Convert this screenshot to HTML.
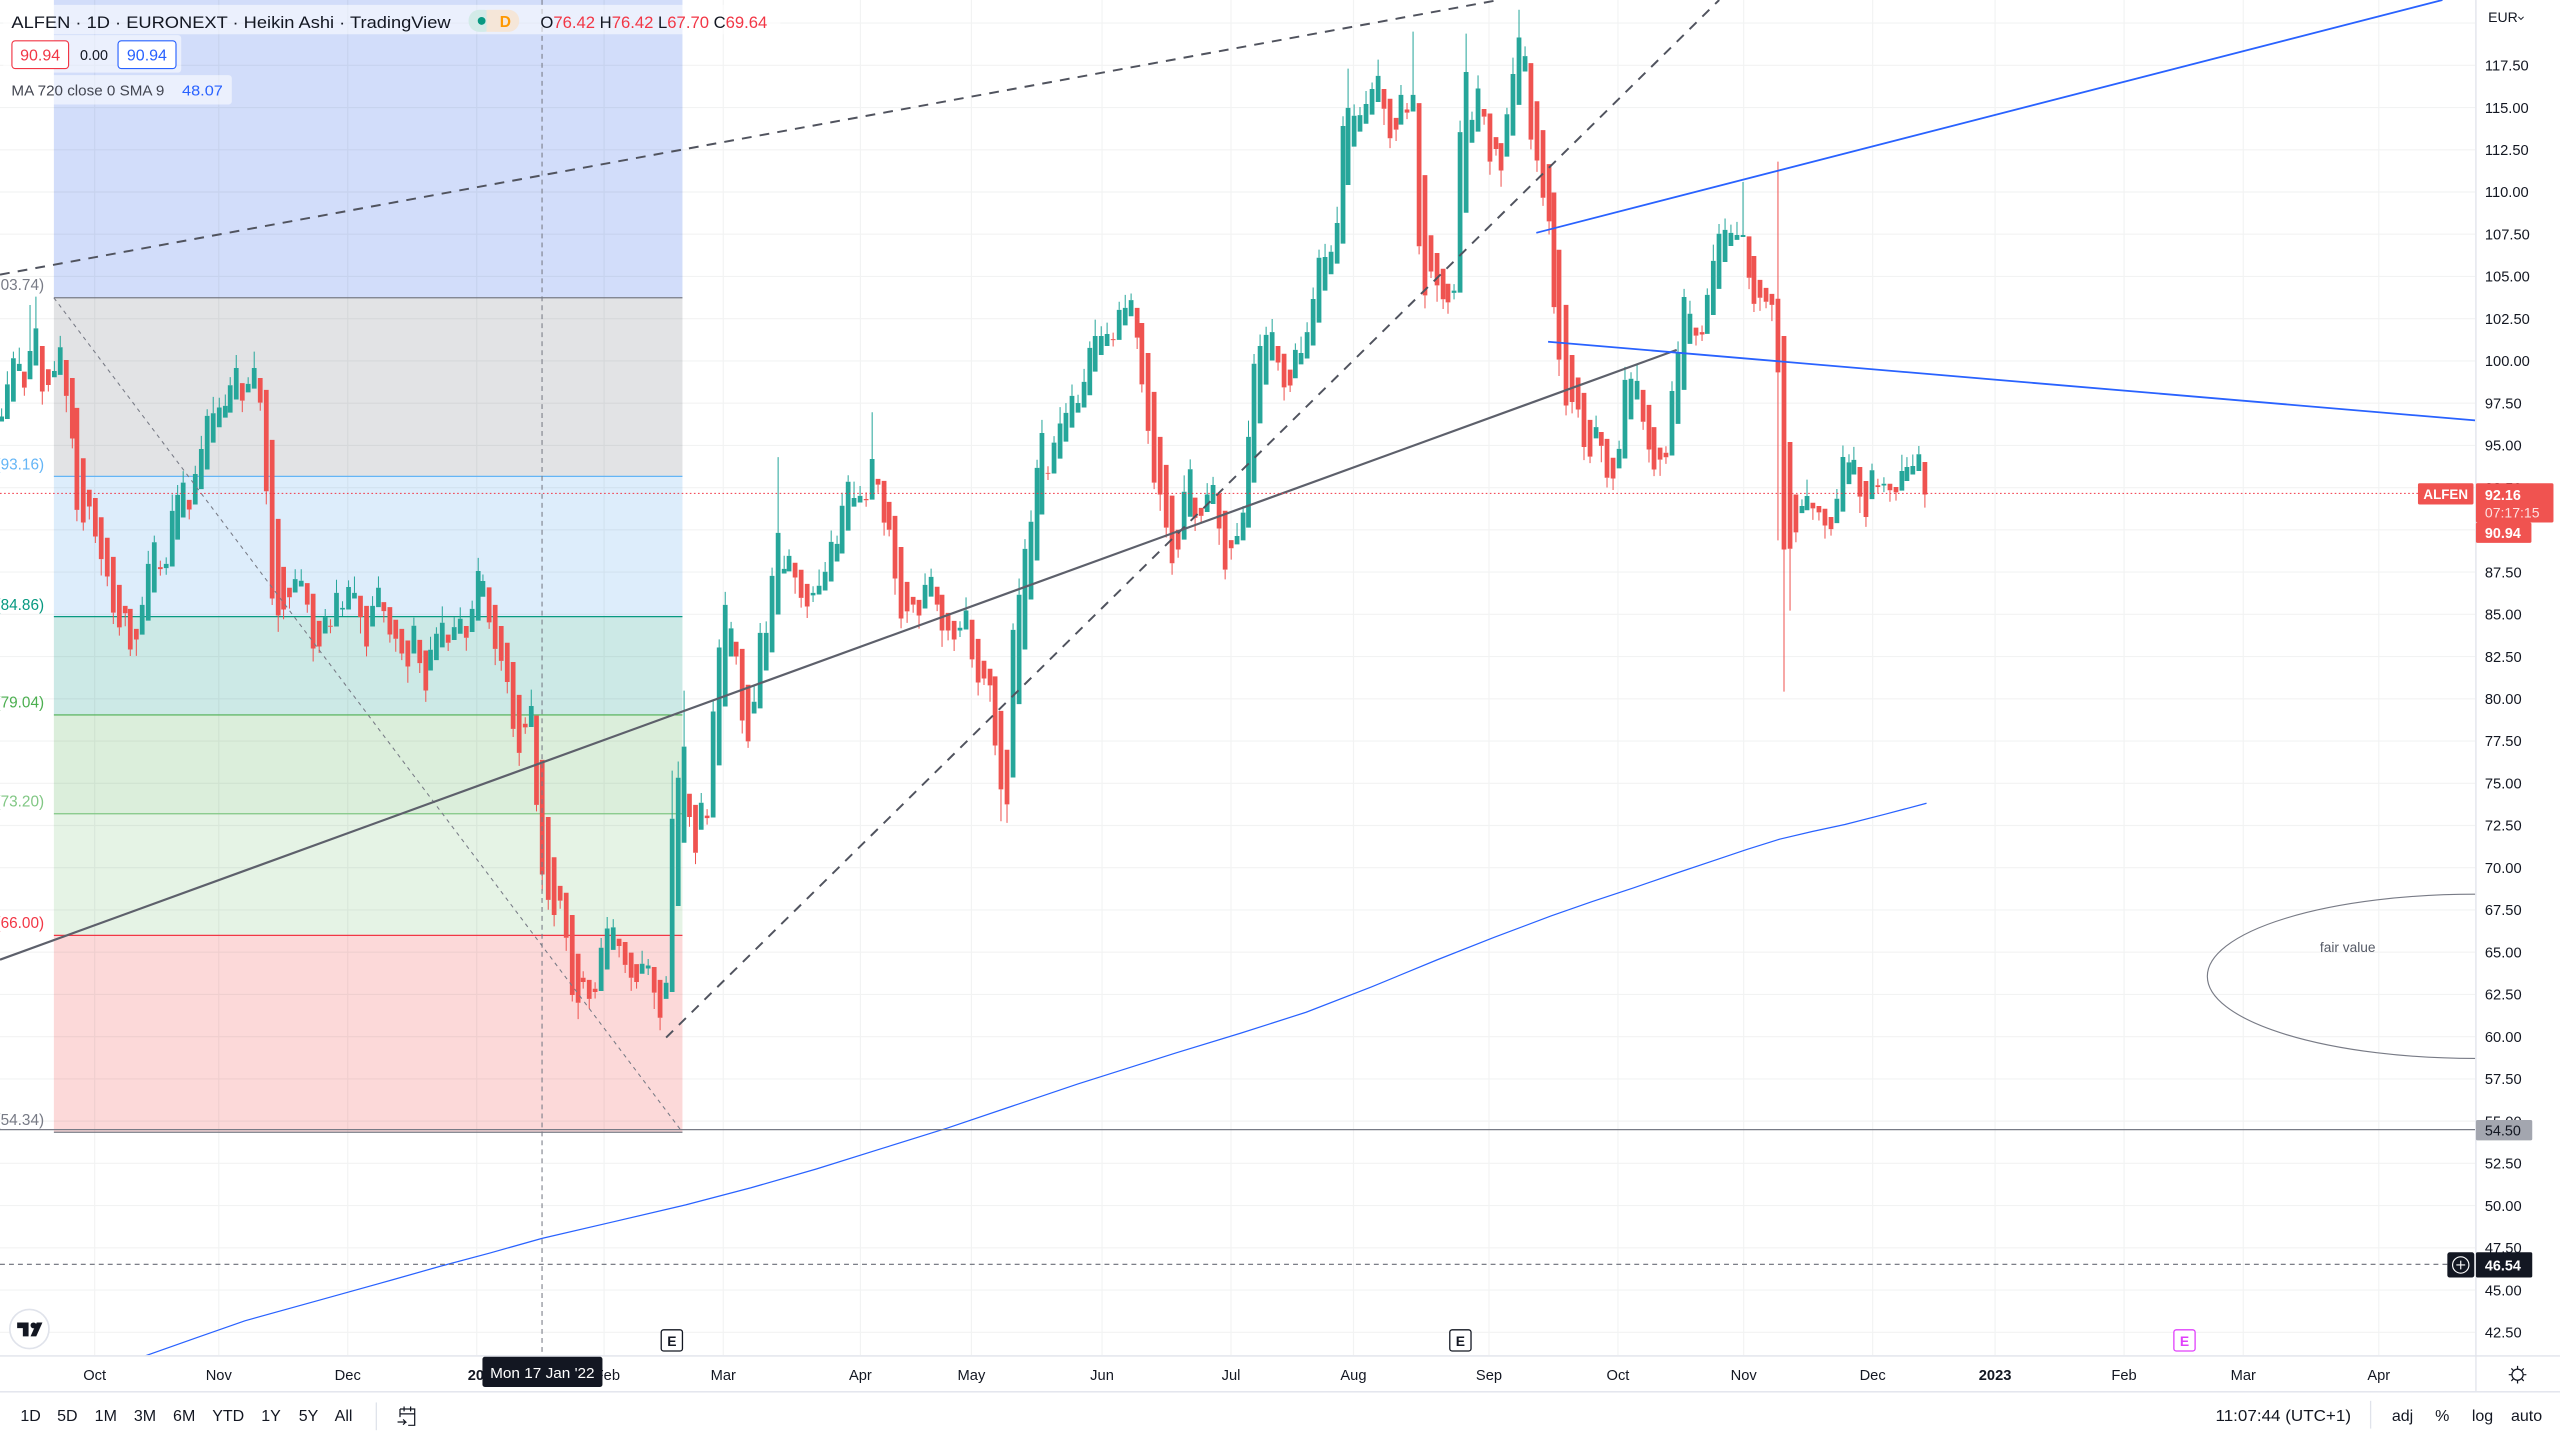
<!DOCTYPE html>
<html><head><meta charset="utf-8">
<style>
html,body{margin:0;padding:0;background:#fff;overflow:hidden;}
svg{display:block;}
text{font-family:"Liberation Sans",Arial,sans-serif;}
</style></head>
<body>
<svg xmlns="http://www.w3.org/2000/svg" width="2560" height="1440" viewBox="0 0 1568 882">
<defs><clipPath id="cp"><rect x="0" y="0" width="1516" height="830"/></clipPath></defs>
<rect width="1568" height="882" fill="#fff"/>
<g clip-path="url(#cp)">
  <!-- fib fills -->
  <rect x="33" y="0" width="385" height="182.4" fill="#d2ddfa"/>
  <rect x="33" y="182.4" width="385" height="109.4" fill="#e2e3e5"/>
  <rect x="33" y="291.8" width="385" height="85.9" fill="#ddedfb"/>
  <rect x="33" y="377.7" width="385" height="60.2" fill="#cce9e6"/>
  <rect x="33" y="437.9" width="385" height="60.5" fill="#dbeedb"/>
  <rect x="33" y="498.4" width="385" height="74.5" fill="#e5f3e5"/>
  <rect x="33" y="572.9" width="385" height="120.6" fill="#fcd9d9"/>
  <!-- grid -->
  <path fill="none" stroke="rgba(42,46,57,0.06)" stroke-width="0.7" d="M58 0V830M134 0V830M213 0V830M292 0V830M370 0V830M443 0V830M527 0V830M595 0V830M675 0V830M754 0V830M829 0V830M912 0V830M991 0V830M1068 0V830M1147 0V830M1222 0V830M1301 0V830M1374 0V830M1457 0V830M0 14.13H1516M0 40H1516M0 65.87H1516M0 91.74H1516M0 117.6H1516M0 143.47H1516M0 169.34H1516M0 195.21H1516M0 221.07H1516M0 246.94H1516M0 272.81H1516M0 298.68H1516M0 324.54H1516M0 350.41H1516M0 376.28H1516M0 402.15H1516M0 428.01H1516M0 453.88H1516M0 479.75H1516M0 505.62H1516M0 531.49H1516M0 557.35H1516M0 583.22H1516M0 609.09H1516M0 634.96H1516M0 660.82H1516M0 686.69H1516M0 712.56H1516M0 738.43H1516M0 764.29H1516M0 790.16H1516M0 816.03H1516"/>
  <!-- fib lines -->
  <g stroke-width="0.75">
    <line x1="33" y1="182.4" x2="418" y2="182.4" stroke="#787b86"/>
    <line x1="33" y1="291.8" x2="418" y2="291.8" stroke="#64b5f6"/>
    <line x1="33" y1="377.7" x2="418" y2="377.7" stroke="#089981"/>
    <line x1="33" y1="437.9" x2="418" y2="437.9" stroke="#4caf50"/>
    <line x1="33" y1="498.4" x2="418" y2="498.4" stroke="#81c784"/>
    <line x1="33" y1="572.9" x2="418" y2="572.9" stroke="#f23645"/>
    <line x1="33" y1="693.5" x2="418" y2="693.5" stroke="#787b86"/>
  </g>
  <g font-size="9.4" text-anchor="end">
    <text x="27" y="177.5" fill="#787b86">(103.74)</text>
    <text x="27" y="287.5" fill="#64b5f6">(93.16)</text>
    <text x="27" y="373.5" fill="#089981">(84.86)</text>
    <text x="27" y="433.5" fill="#4caf50">(79.04)</text>
    <text x="27" y="494" fill="#81c784">(73.20)</text>
    <text x="27" y="568.5" fill="#f23645">(66.00)</text>
    <text x="27" y="689" fill="#787b86">(54.34)</text>
  </g>
  <!-- MA 720 -->
  <polyline fill="none" stroke="#2962ff" stroke-width="0.75" points="88,830.8 120,819.5 150,809 195,796.5 240,784 270,775.5 300,767.5 332,758.5 375,748.5 420,738 460,727.5 500,716 540,703.5 580,691 620,677.5 660,664 690,654.5 720,645 760,632.8 800,620 840,604.5 880,588 915,574.2 950,561 975,552.3 1000,544 1025,535.4 1050,527 1070,520.3 1090,514 1110,509.3 1130,505 1155,498.6 1180,492"/>
  <!-- fair value ellipse -->
  <ellipse cx="1516" cy="598" rx="164" ry="50.3" fill="none" stroke="#787b86" stroke-width="0.7"/>
  <text x="1438" y="583" font-size="8.4" fill="#555a66" text-anchor="middle">fair value</text>
  <!-- candles: teal wicks -->
  <path fill="none" stroke="#26a69a" stroke-width="0.62" d="M1 255.1v-5M4.5 235.4v-8M8.2 219.4v-4M11.8 222.9v-10M18.4 215V186.8M22 201.1V181.7M33.3 227.2v-6M36.9 212.7v-7M87.1 370.5v-5M90.8 345.4v-8M94.5 332.1v-4M101.8 345.4v-4M101.8 348v4M105.5 312.9v-10M108.8 303.1v-6M112.2 295.6v-7M119.6 290.3v-5M123.3 275v-8M126.9 254.7v-4M130.6 253.1v-10M134.3 249.6v-6M138 248.6v-7M141 236v-5M144.7 225.4v-8M152 235.1v-4M155.7 225.4v-10M180.8 354.7v-6M184.5 355.7v-7M199.2 378v-5M206.1 363.1v-8M209.8 372.3v-4M209.8 373.3v4M213.5 359.5v-4M217.1 363.1v-10M228.2 371.1v-6M231.8 360v-7M253.5 383.3v-5M263.7 398v-8M267.3 388.2v-4M270.9 381.4v-10M278.2 384.1v-6M281.9 379v-7M289.2 372.9v-5M292.9 349.7v-8M295.8 355.9v-4M325.4 432.4v-10M368.2 580.5v-6M371.9 568.7v-7M375.6 568v-5M393.3 590.3v-8M397 591.4v-4M397 593.2v4M408 601.9v-4M411.7 501.5V472M415.4 476.4v-10M419 457.3V423M429.5 491.7v-6M436.8 435.8v-7M440.5 396.6v-5M444.2 370.5v-8M447.8 384.9v-4M461.9 429.8v-10M465.6 387.6v-6M469.3 387.6v-7M472.9 352.7v-5M476.6 326.4V280M480.3 348.4v-8M483.3 340.5v-4M498 363.1v-4M498 364.7v4M501.7 358.8v-10M505.4 350.2v-6M509.1 331.9v-7M512.7 333.1v-5M515.8 309.8v-8M519.5 295.1v-4M523.1 305v-10M526.8 303.7v-6M534.2 281.1V252.5M566.6 358.2v-7M570.3 353.3v-5M588 384.5v-4M588 386.2v4M591.7 373.9v-8M620.5 385.8v-4M624.2 364.3v-10M627.8 336.2v-6M631.5 319.6v-7M635.2 286.6v-5M638.2 265.2v-8M645.6 271.1v-4M649.3 259.4v-10M652.9 252.9v-6M656.6 242.5v-7M660.3 246.8v-5M664 233.9v-8M667.5 213.1v-4M670.8 205.8v-10M674.5 205.8v-6M678.1 204.6v-7M685.5 189.8v-5M689.2 188.6v-8M692.8 183.8v-4M725.3 301.2v-10M729 287.4v-6M739.4 302.9v-7M743 297.1v-5M757.7 328.3v-8M761.4 314v-4M764.7 267.6v-10M768.1 222.8v-6M771.8 211.9v-7M775.5 205.1v-5M779.2 203.4v-8M793.4 214.3v-4M796.9 216.2v-10M800.6 203.4v-6M804.3 183.1v-7M807.9 157.9v-5M811.6 157.4v-8M815.3 154.2v-4M819 136.6v-10M822.6 77.2v-6M825.7 66.1V42M829.4 70.9v-7M833 70.5v-5M836.7 63.7v-8M840.4 54.5v-4M844.1 46.5v-10M858.1 58.1v-6M865.5 58.1V19.4M890.6 178v-4M890.6 179.4v4M894.3 80.9v-7M898 44.1V20.6M901.6 73.4v-5M905.3 54.2v-8M923 70v-4M926.7 45.3v-10M930.4 23V6M934.1 34.4v-6M977.6 261.6v-7M991.7 274.9v-5M995.3 232.7v-8M999 232v-4M1002.7 233.3v-10M1024.1 239.5v-6M1027.8 216.1v-7M1031.5 181.9v-5M1035.1 192.2v-8M1045.7 180.6v-4M1049.4 159.8v-10M1052.9 143.2v-6M1056.6 140.8v-7M1060.2 142.6v-5M1063.9 143.9v-8M1067.6 143.9V111.5M1103.7 309.9v-4M1106.8 303.8v-10M1125.1 305.5v-6M1128.8 279.9v-7M1132.5 283.2v-5M1135.5 281.7v-8M1146.6 288v-4M1153.9 296.3v-4M1153.9 297.4v4M1164.9 288.5v-10M1168 286v-6M1171.6 285.4v-7M1175.3 278.2v-5"/>
  <!-- teal bodies -->
  <path fill="none" stroke="#26a69a" stroke-width="2.9" d="M1 255.1V258.2M4.5 235.4V256.6M8.2 219.4V246M11.8 222.9V227.2M18.4 215V232.3M22 201.1V223.9M33.3 227.2V231.1M36.9 212.7V229.6M87.1 370.5V388.7M90.8 345.4V380.1M94.5 332.1V362.9M101.8 345.4V348M105.5 312.9V347M108.8 303.1V330.5M112.2 295.6V317M119.6 290.3V309M123.3 275V299.6M126.9 254.7V287.6M130.6 253.1V271.1M134.3 249.6V261.7M138 248.6V255.8M141 236V252.7M144.7 225.4V244.7M152 235.1V240.3M155.7 225.4V238M180.8 354.7V362.9M184.5 355.7V359.2M199.2 378V388M206.1 363.1V383.7M209.8 372.3V373.3M213.5 359.5V373.3M217.1 363.1V366.6M228.2 371.1V383.7M231.8 360V371.9M253.5 383.3V400.3M263.7 398V410.7M267.3 388.2V404.3M270.9 381.4V396.5M278.2 384.1V392M281.9 379V388.2M289.2 372.9V387.1M292.9 349.7V380.1M295.8 355.9V365.5M325.4 432.4V445.3M368.2 580.5V607M371.9 568.7V593.8M375.6 568V581.8M393.3 590.3V596.4M397 591.4V593.2M408 601.9V611.8M411.7 501.5V607.6M415.4 476.4V554.9M419 457.3V516.2M429.5 491.7V508.2M436.8 435.8V500.7M440.5 396.6V468.8M444.2 370.5V432.7M447.8 384.9V402.1M461.9 429.8V437M465.6 387.6V433.9M469.3 387.6V410.7M472.9 352.7V399.6M476.6 326.4V376.4M480.3 348.4V351.3M483.3 340.5V350M498 363.1V364.7M501.7 358.8V364.1M505.4 350.2V361.7M509.1 331.9V356.2M512.7 333.1V343.9M515.8 309.8V339M519.5 295.1V325M523.1 305V310.3M526.8 303.7V307.8M534.2 281.1V306M566.6 358.2V372.7M570.3 353.3V365.4M588 384.5V386.2M591.7 373.9V385.6M620.5 385.8V476.2M624.2 364.3V431.3M627.8 336.2V397.8M631.5 319.6V367.2M635.2 286.6V343.3M638.2 265.2V315.1M645.6 271.1V290M649.3 259.4V280.9M652.9 252.9V270.5M656.6 242.5V261.9M660.3 246.8V252.7M664 233.9V249.6M667.5 213.1V242.1M670.8 205.8V227.6M674.5 205.8V217.4M678.1 204.6V211.9M685.5 189.8V208.2M689.2 188.6V199.3M692.8 183.8V193.7M725.3 301.2V330.5M729 287.4V316.5M739.4 302.9V313.6M743 297.1V308.7M757.7 328.3V333.4M761.4 314V331M764.7 267.6V323.2M768.1 222.8V295.6M771.8 211.9V259.3M775.5 205.1V235.6M779.2 203.4V220.8M793.4 214.3V231.7M796.9 216.2V223.2M800.6 203.4V219.6M804.3 183.1V211.6M807.9 157.9V197.6M811.6 157.4V178M815.3 154.2V168M819 136.6V161.5M822.6 77.2V149.2M825.7 66.1V113.3M829.4 70.9V89.8M833 70.5V80.6M836.7 63.7V75.8M840.4 54.5V70.2M844.1 46.5V62.5M858.1 58.1V76.3M865.5 58.1V68.3M890.6 178V179.4M894.3 80.9V179.2M898 44.1V130.3M901.6 73.4V87.4M905.3 54.2V80.6M923 70V95.9M926.7 45.3V83.1M930.4 23V64.2M934.1 34.4V43.8M977.6 261.6V268.5M991.7 274.9V286.9M995.3 232.7V280.8M999 232V256.9M1002.7 233.3V244.7M1024.1 239.5V279M1027.8 216.1V259.6M1031.5 181.9V238.8M1035.1 192.2V210.6M1045.7 180.6V204.5M1049.4 159.8V192.9M1052.9 143.2V176.9M1056.6 140.8V160.5M1060.2 142.6V150.7M1063.9 143.9V146.9M1067.6 143.9V145.2M1103.7 309.9V314.3M1106.8 303.8V312.5M1125.1 305.5V320.4M1128.8 279.9V313.4M1132.5 283.2V296.5M1135.5 281.7V290.6M1146.6 288V305.7M1153.9 296.3V297.4M1164.9 288.5V300.5M1168 286V294.6M1171.6 285.4V290.6M1175.3 278.2V288.5"/>
  <!-- red wicks -->
  <path fill="none" stroke="#ef5350" stroke-width="0.62" d="M14.9 237.4v5M25.9 239.8v8M29.6 235.8v4M40.6 242.5v10M44.3 268.6v6M47.1 312.3v7M51 320v5M54.7 310.2v8M58.4 328.6v4M62 342.5v10M65.7 353.1v6M69.4 375.2v7M73.1 384.3v5M76.7 375.6v8M79.8 397.8v4M83.5 391.7v10M98.2 347.4v-4M98.2 348.6v4M115.9 312.1v6M148.4 245.4v7M159.4 246.6v5M163.1 300.9v8M166.7 366.6v4M170.4 377v10M173.7 373.3v6M177.3 365.8v7M188.2 370.3v5M191.8 397.2v8M195.5 396v4M202.4 383.3v-4M202.4 383.9v4M220.8 378v10M224.5 396v6M235.1 374.3v7M238.8 388.6v5M242.4 391.2v8M246.1 400.3v4M249.8 408.2v10M257.1 406.2v6M260.8 422.9v7M274.5 393.7v5M285.6 390.6v8M299.6 381.2v4M303.3 397.4v10M307 404.8v6M310.7 417.7v7M314.3 446.4v5M318 461.1v8M321.7 443.3v-4M321.7 445.5v4M328.6 493v4M332.1 535.6v10M335.8 551.2v6M339.4 560.4v7M343.1 551.6v5M346.8 574.4v8M350.5 609.4v4M354.1 614.2v10M357.2 598.9v-4M357.2 601.5v4M360.9 611.8v6M364.5 605.6v-4M364.5 607.6v4M379.2 579.4v7M382.9 591v5M386.6 598.9v8M389.9 601.5v4M400.7 608v10M404.3 623.4V631M422.3 500.4v6M426 522.3v7M433.1 499.6v-4M433.1 501.1v4M450.9 402.1v5M454.6 441.3v8M458.2 454.1v4M487 353.7v10M490.7 366.2v6M494.4 371.5v7M530.5 305.6v-4M530.5 306.4v4M537.8 296.8v5M541.5 320.1v8M544.6 324.5v4M548.2 354.3v10M551.9 378.8v6M555.6 374.5v7M559.3 370.3v5M562.9 377v8M574 370.3v4M577 386.2v10M580.7 386.2v6M584.4 391.7v7M595.4 403.9v5M599.1 418v8M602.7 415.6v4M606.4 419.8v10M609.5 456.6v6M613.1 483.5V503M616.8 492.7V504M641.9 289.6v-4M641.9 290v4M681.8 207.7v-4M681.8 208.2v4M696.5 206.8v7M699.4 235.4v5M703.2 263.9v8M706.9 295.6v4M710.6 302.9v10M714.3 323.2v6M717.9 345v7M721.6 336.6v5M732 317.2v8M735.7 316v4M746.7 323.7v10M750.4 348.9v6M754.1 335.8v7M782.8 222v5M786.5 237.3v8M790.2 236.1v4M847.7 66.6v10M851.4 84.7v6M855.1 79.4v7M861.8 67.1v-4M861.8 69v4M869.2 150.8v5M872.8 180.9v8M876.5 166.3v4M880.2 174.8v10M883.9 183.3v6M886.9 185.2v7M909 71.4v5M912.6 99v8M916.3 91.3v4M919.4 104.4v10M937.7 85.5v6M941.4 98.3v7M945.1 121.1v5M948.8 135.6v8M951.8 188.1v4M954.9 220.3v10M959.2 248.4v6M962.9 246.2v7M966.6 250.8v5M970.2 273.8v8M973.9 279.7v4M980.8 273.1v10M984.3 292.6v6M988 293.1v7M1006.4 258.3v5M1010 275.3v8M1013.1 287.6v4M1016.8 281.5v10M1020.4 277.3v-4M1020.4 280.1v4M1038.8 205.6v6M1042.5 203.4v-4M1042.5 204.9v4M1071.3 170.1v7M1074.3 186.1v5M1078 182.4v8M1081.7 184.8v4M1085.3 186.7v10M1089 99V331M1092.7 336.6V423.6M1096.4 336.1V374M1100 326.1v6M1110.4 311.4v7M1114.1 313.8v5M1117.8 321.9v8M1121.5 324.1v4M1139.2 304.2v10M1142.9 316.7v6M1150.2 297.2v-4M1150.2 298.3v4M1157.6 300.3v7M1161.3 301.6v5M1179 302.9v8"/>
  <!-- red bodies -->
  <path fill="none" stroke="#ef5350" stroke-width="2.9" d="M14.9 227.6V237.4M25.9 211.9V239.8M29.6 226.2V235.8M40.6 220.5V242.5M44.3 231.5V268.6M47.1 249.8V312.3M51 280.7V320M54.7 300V310.2M58.4 305V328.6M62 316.8V342.5M65.7 329.4V353.1M69.4 341.1V375.2M73.1 358.2V384.3M76.7 371.1V375.6M79.8 372.9V397.8M83.5 385.2V391.7M98.2 347.4V348.6M115.9 306.2V312.1M148.4 234.7V245.4M159.4 231.5V246.6M163.1 238.8V300.9M166.7 269.4V366.6M170.4 317.8V377M173.7 347.2V373.3M177.3 360V365.8M188.2 357.2V370.3M191.8 363.7V397.2M195.5 380.3V396M202.4 383.3V383.9M220.8 364.9V378M224.5 371.1V396M235.1 368.8V374.3M238.8 371.9V388.6M242.4 379.6V391.2M246.1 385.2V400.3M249.8 392.3V408.2M257.1 391.9V406.2M260.8 398.4V422.9M274.5 388.7V393.7M285.6 383.4V390.6M299.6 359.8V381.2M303.3 370.5V397.4M307 383.4V404.8M310.7 393.7V417.7M314.3 405.5V446.4M318 425.6V461.1M321.7 443.3V445.5M328.6 438.3V493M332.1 465.4V535.6M335.8 500.4V551.2M339.4 525.1V560.4M343.1 542.6V551.6M346.8 546.8V574.4M350.5 560.4V609.4M354.1 584.2V614.2M357.2 598.9V601.5M360.9 600.2V611.8M364.5 605.6V607.6M379.2 575V579.4M382.9 577V591M386.6 583.5V598.9M389.9 590.5V601.5M400.7 592.3V608M404.3 600.2V623.4M422.3 486.2V500.4M426 493V522.3M433.1 499.6V501.1M450.9 393.1V402.1M454.6 397.4V441.3M458.2 419.4V454.1M487 344.7V353.7M490.7 349V366.2M494.4 357.6V371.5M530.5 305.6V306.4M537.8 293.3V296.8M541.5 294.5V320.1M544.6 307.4V324.5M548.2 316V354.3M551.9 335V378.8M555.6 356.4V374.5M559.3 365.6V370.3M562.9 367.4V377M574 359.4V370.3M577 364.3V386.2M580.7 375.4V386.2M584.4 380.3V391.7M595.4 379.6V403.9M599.1 391.3V418M602.7 404.7V415.6M606.4 409.6V419.8M609.5 414.3V456.6M613.1 435.4V483.5M616.8 459.2V492.7M641.9 289.6V290.2M681.8 207.7V208.3M696.5 188.6V206.8M699.4 197.8V235.4M703.2 216.2V263.9M706.9 240V295.6M710.6 267.6V302.9M714.3 284.7V323.2M717.9 303.6V345M721.6 324.5V336.6M732 304.8V317.2M735.7 311.1V316M746.7 302.4V323.7M750.4 312.8V348.9M754.1 330.8V335.8M782.8 211.9V222M786.5 216.7V237.3M790.2 226.4V236.1M847.7 54.5V66.6M851.4 60.5V84.7M855.1 72.2V79.4M861.8 67.1V69M869.2 63.2V150.8M872.8 107.3V180.9M876.5 144.1V166.3M880.2 155V174.8M883.9 164.6V183.3M886.9 173.8V185.2M909 66.8V71.4M912.6 69.5V99M916.3 84V91.3M919.4 87.7V104.4M937.7 38.7V85.5M941.4 62V98.3M945.1 79.7V121.1M948.8 100.5V135.6M951.8 117.9V188.1M954.9 153V220.3M959.2 186.7V248.4M962.9 217.4V246.2M966.6 231.2V250.8M970.2 240.6V273.8M973.9 257.2V279.7M980.8 264.6V273.1M984.3 268.8V292.6M988 280.4V293.1M1006.4 238.8V258.3M1010 248V275.3M1013.1 261.6V287.6M1016.8 274.2V281.5M1020.4 277.3V280.1M1038.8 200.7V205.6M1042.5 203.4V204.9M1071.3 144.8V170.1M1074.3 156.8V186.1M1078 171.4V182.4M1081.7 176.3V184.8M1085.3 180V186.7M1089 183V228.1M1092.7 205.8V336.6M1096.4 270.7V336.1M1100 302.9V326.1M1110.4 307.9V311.4M1114.1 309.9V313.8M1117.8 311.6V321.9M1121.5 316.7V324.1M1139.2 286V304.2M1142.9 294.6V316.7M1150.2 297.2V298.3M1157.6 296.3V300.3M1161.3 298.3V301.6M1179 283V302.9"/>
  <!-- fib diagonal -->
  <line x1="33" y1="182.4" x2="418" y2="693.5" stroke="#787b86" stroke-width="0.65" stroke-dasharray="2.4,2.6"/>
  <!-- trend lines -->
  <line x1="0" y1="168.2" x2="918" y2="0" stroke="#50535e" stroke-width="1.2" stroke-dasharray="6,5"/>
  <line x1="408" y1="635.5" x2="1053" y2="0" stroke="#50535e" stroke-width="1.2" stroke-dasharray="6,5"/>
  <line x1="0" y1="587.8" x2="1027" y2="214.3" stroke="#5d606b" stroke-width="1.35"/>
  <line x1="941" y1="142.6" x2="1496" y2="0" stroke="#2962ff" stroke-width="1.1"/>
  <line x1="948.2" y1="209.3" x2="1516" y2="257.5" stroke="#2962ff" stroke-width="1.1"/>
  <!-- price lines -->
  <line x1="0" y1="302.2" x2="1481" y2="302.2" stroke="#f23645" stroke-width="0.65" stroke-dasharray="1,1.5"/>
  <line x1="0" y1="691.9" x2="1516" y2="691.9" stroke="#787b86" stroke-width="0.7"/>
  <line x1="0" y1="774.4" x2="1499" y2="774.4" stroke="#6a6d78" stroke-width="0.7" stroke-dasharray="3,2.5"/>
  <!-- crosshair -->
  <line x1="332" y1="0" x2="332" y2="830" stroke="#787b86" stroke-width="0.65" stroke-dasharray="3,2.5"/>
  <!-- ALFEN label -->
  <rect x="1481" y="296" width="34" height="13" rx="1" fill="#f05350"/>
  <text x="1498" y="305.8" font-size="8.2" fill="#fff" text-anchor="middle" font-weight="bold">ALFEN</text>
  <!-- E markers -->
  <g font-size="8.5" font-weight="bold" text-anchor="middle">
    <rect x="405" y="814.5" width="13" height="13" rx="1.5" fill="#fff" stroke="#131722" stroke-width="0.8"/>
    <text x="411.5" y="824.3" fill="#131722">E</text>
    <rect x="888" y="814.5" width="13" height="13" rx="1.5" fill="#fff" stroke="#131722" stroke-width="0.8"/>
    <text x="894.5" y="824.3" fill="#131722">E</text>
    <rect x="1331.5" y="814.5" width="13" height="13" rx="1.5" fill="#fff" stroke="#e040fb" stroke-width="0.8"/>
    <text x="1338" y="824.3" fill="#e040fb">E</text>
  </g>
  <!-- TV logo -->
  <circle cx="18" cy="814" r="12" fill="#fff" stroke="#e0e3eb" stroke-width="1"/>
  <path d="M10.5,810 h7 v8.5 h-3.5 v-5 h-3.5 z" fill="#131722"/>
  <circle cx="20.5" cy="811.8" r="1.8" fill="#131722"/>
  <path d="M22.5,810 h3.5 l-3.8,8.5 h-3.5 z" fill="#131722"/>
  <!-- legend bg -->
  <rect x="2" y="3" width="476" height="18" rx="2" fill="rgba(255,255,255,0.55)"/>
  <rect x="2" y="21.5" width="109" height="23" rx="2" fill="rgba(255,255,255,0.55)"/>
  <rect x="2" y="46" width="140" height="18" rx="2" fill="rgba(255,255,255,0.55)"/>
</g>
<!-- legend text -->
<text x="7" y="17.1" font-size="10.3" fill="#131722" textLength="269" lengthAdjust="spacingAndGlyphs">ALFEN · 1D · EURONEXT · Heikin Ashi · TradingView</text>
<rect x="287" y="6" width="16" height="13.5" rx="6.5" fill="#d3ebe8"/>
<rect x="298" y="6" width="20" height="13.5" rx="6.5" fill="#f5e6d8"/>
<rect x="298" y="6" width="6" height="13.5" fill="#f5e6d8"/>
<circle cx="295" cy="12.8" r="2.4" fill="#089981"/>
<text x="309.5" y="16.6" font-size="9.5" fill="#ff9800" text-anchor="middle" font-weight="bold">D</text>
<text x="331" y="17.1" font-size="10.3" textLength="139" lengthAdjust="spacingAndGlyphs"><tspan fill="#131722">O</tspan><tspan fill="#f23645">76.42 </tspan><tspan fill="#131722">H</tspan><tspan fill="#f23645">76.42 </tspan><tspan fill="#131722">L</tspan><tspan fill="#f23645">67.70 </tspan><tspan fill="#131722">C</tspan><tspan fill="#f23645">69.64</tspan></text>
<rect x="7.3" y="25" width="34.7" height="17" rx="2" fill="#fff" stroke="#f23645" stroke-width="0.7"/>
<text x="24.6" y="37.2" font-size="9.8" fill="#f23645" text-anchor="middle">90.94</text>
<text x="49" y="36.8" font-size="8.8" fill="#131722">0.00</text>
<rect x="72.3" y="25" width="35.5" height="17" rx="2" fill="#fff" stroke="#2962ff" stroke-width="0.7"/>
<text x="90" y="37.2" font-size="9.8" fill="#2962ff" text-anchor="middle">90.94</text>
<text x="7" y="58.5" font-size="9" fill="#434651" textLength="93.7" lengthAdjust="spacingAndGlyphs">MA 720 close 0 SMA 9</text>
<text x="111.5" y="58.5" font-size="9" fill="#2962ff" textLength="25" lengthAdjust="spacingAndGlyphs">48.07</text>

<!-- price axis -->
<rect x="1516.5" y="0" width="52" height="852" fill="#fff"/>
<line x1="1516.5" y1="0" x2="1516.5" y2="852" stroke="#e0e3eb" stroke-width="0.8"/>
<text x="1524" y="13.5" font-size="8.6" fill="#131722">EUR</text>
<path d="M1542.5,10.3 l1.6,1.6 l1.6,-1.6" fill="none" stroke="#131722" stroke-width="0.6"/>
<g font-size="9" fill="#131722">
  <text x="1522" y="43.2">117.50</text>
  <text x="1522" y="69.07">115.00</text>
  <text x="1522" y="94.94">112.50</text>
  <text x="1522" y="120.8">110.00</text>
  <text x="1522" y="146.67">107.50</text>
  <text x="1522" y="172.54">105.00</text>
  <text x="1522" y="198.41">102.50</text>
  <text x="1522" y="224.27">100.00</text>
  <text x="1522" y="250.14">97.50</text>
  <text x="1522" y="276.01">95.00</text>
  <text x="1522" y="301.88">92.50</text>
  <text x="1522" y="327.74">90.00</text>
  <text x="1522" y="353.61">87.50</text>
  <text x="1522" y="379.48">85.00</text>
  <text x="1522" y="405.35">82.50</text>
  <text x="1522" y="431.21">80.00</text>
  <text x="1522" y="457.08">77.50</text>
  <text x="1522" y="482.95">75.00</text>
  <text x="1522" y="508.82">72.50</text>
  <text x="1522" y="534.69">70.00</text>
  <text x="1522" y="560.55">67.50</text>
  <text x="1522" y="586.42">65.00</text>
  <text x="1522" y="612.29">62.50</text>
  <text x="1522" y="638.16">60.00</text>
  <text x="1522" y="664.02">57.50</text>
  <text x="1522" y="689.89">55.00</text>
  <text x="1522" y="715.76">52.50</text>
  <text x="1522" y="741.63">50.00</text>
  <text x="1522" y="767.49">47.50</text>
  <text x="1522" y="793.36">45.00</text>
  <text x="1522" y="819.23">42.50</text>
</g>
<rect x="1516.5" y="296" width="47.5" height="24" rx="1" fill="#f05350"/>
<text x="1522" y="306.2" font-size="8.8" fill="#fff" font-weight="bold">92.16</text>
<text x="1522" y="317" font-size="8.6" fill="#fde0e0">07:17:15</text>
<rect x="1516.5" y="320" width="34" height="12.5" rx="1" fill="#f05350"/>
<text x="1522" y="329.6" font-size="8.8" fill="#fff" font-weight="bold">90.94</text>
<rect x="1516.5" y="686" width="34.5" height="12.5" rx="1" fill="#a3a6af"/>
<text x="1522" y="695.4" font-size="8.8" fill="#131722">54.50</text>
<rect x="1516.5" y="767" width="34.5" height="15.5" rx="1" fill="#131722"/>
<text x="1522" y="778.2" font-size="8.8" fill="#fff" font-weight="bold">46.54</text>
<rect x="1499" y="767" width="16.5" height="15.5" rx="1.5" fill="#131722"/>
<circle cx="1507.2" cy="774.8" r="5" fill="none" stroke="#fff" stroke-width="0.7"/>
<path d="M1504.5,774.8 h5.4 M1507.2,772.1 v5.4" stroke="#fff" stroke-width="0.7"/>

<!-- time axis -->
<rect x="0" y="830.5" width="1516" height="22" fill="#fff"/>
<line x1="0" y1="830.5" x2="1568" y2="830.5" stroke="#e0e3eb" stroke-width="0.8"/>
<line x1="0" y1="852.5" x2="1568" y2="852.5" stroke="#e0e3eb" stroke-width="0.8"/>
<g font-size="9" fill="#131722" text-anchor="middle">
  <text x="58" y="845.2">Oct</text>
  <text x="134" y="845.2">Nov</text>
  <text x="213" y="845.2">Dec</text>
  <text x="296.5" y="845.2" font-weight="bold">2022</text>
  <text x="372" y="845.2">Feb</text>
  <text x="443" y="845.2">Mar</text>
  <text x="527" y="845.2">Apr</text>
  <text x="595" y="845.2">May</text>
  <text x="675" y="845.2">Jun</text>
  <text x="754" y="845.2">Jul</text>
  <text x="829" y="845.2">Aug</text>
  <text x="912" y="845.2">Sep</text>
  <text x="991" y="845.2">Oct</text>
  <text x="1068" y="845.2">Nov</text>
  <text x="1147" y="845.2">Dec</text>
  <text x="1222" y="845.2" font-weight="bold">2023</text>
  <text x="1301" y="845.2">Feb</text>
  <text x="1374" y="845.2">Mar</text>
  <text x="1457" y="845.2">Apr</text>
</g>
<rect x="295.5" y="831" width="73.5" height="18.5" rx="1.5" fill="#131722"/>
<text x="332.2" y="844" font-size="8.8" fill="#fff" text-anchor="middle" textLength="64" lengthAdjust="spacingAndGlyphs">Mon 17 Jan '22</text>
<!-- gear -->
<g transform="translate(1542,842)" stroke="#131722" stroke-width="0.75" fill="none">
  <circle r="3.4"/>
  <path d="M0,-5.4 v2 M0,5.4 v-2 M-5.4,0 h2 M5.4,0 h-2 M-3.8,-3.8 l1.4,1.4 M3.8,3.8 l-1.4,-1.4 M-3.8,3.8 l1.4,-1.4 M3.8,-3.8 l-1.4,1.4"/>
</g>
<!-- bottom toolbar -->
<g font-size="9.8" fill="#131722">
  <text x="12.5" y="870.5">1D</text>
  <text x="35" y="870.5">5D</text>
  <text x="58" y="870.5">1M</text>
  <text x="82" y="870.5">3M</text>
  <text x="106" y="870.5">6M</text>
  <text x="130" y="870.5">YTD</text>
  <text x="160" y="870.5">1Y</text>
  <text x="183" y="870.5">5Y</text>
  <text x="205" y="870.5">All</text>
  <text x="1357" y="870.5" textLength="83" lengthAdjust="spacingAndGlyphs">11:07:44 (UTC+1)</text>
  <text x="1465" y="870.5">adj</text>
  <text x="1491.5" y="870.5">%</text>
  <text x="1514" y="870.5">log</text>
  <text x="1538" y="870.5">auto</text>
</g>
<line x1="230.5" y1="859" x2="230.5" y2="876" stroke="#e0e3eb" stroke-width="0.8"/>
<line x1="1452" y1="858" x2="1452" y2="875" stroke="#e0e3eb" stroke-width="0.8"/>
<g transform="translate(243,860)" stroke="#131722" stroke-width="0.75" fill="none">
  <path d="M2,3 h9 v10 h-4 M2,3 v5 M2,6 h9 M4.5,1.5 v3 M8.5,1.5 v3 M0.5,11 h5 l-1.6,-1.6 M5.5,11 l-1.6,1.6"/>
</g>
</svg>
</body></html>
